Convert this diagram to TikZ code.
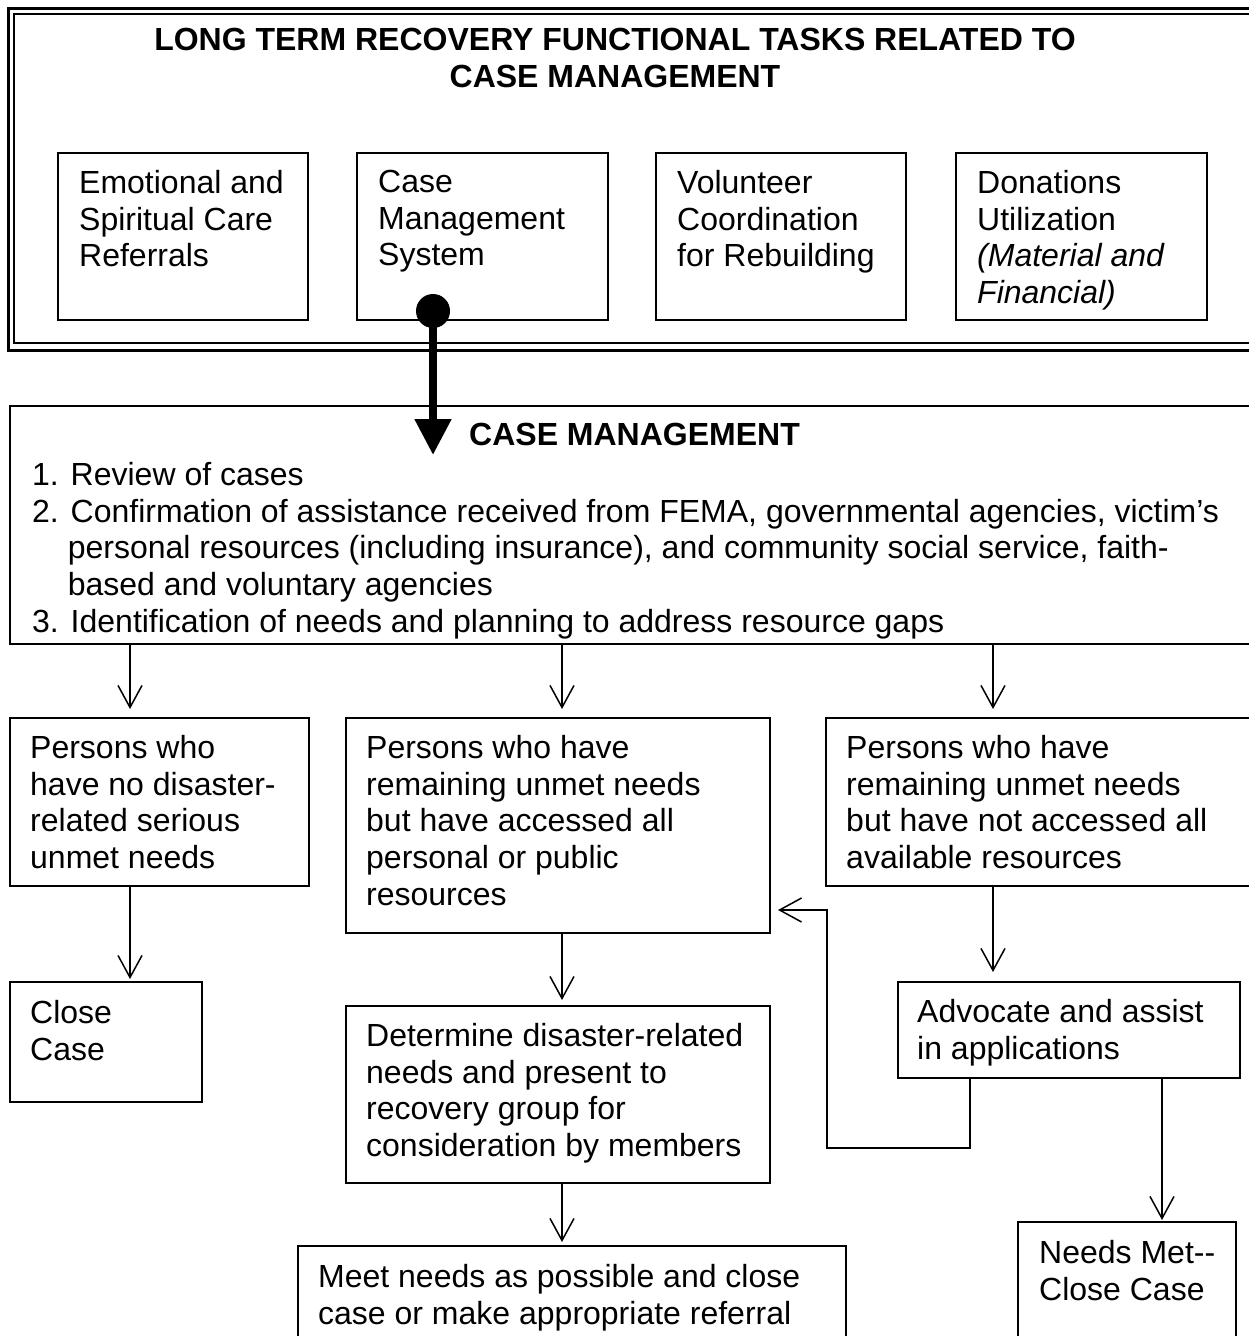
\documentclass[tikz,border=0pt]{standalone}
\usepackage{fontspec}
\setmainfont{Liberation Sans}
\usetikzlibrary{arrows.meta}

\begin{document}
\begin{tikzpicture}[x=1pt, y=-1pt, font=\fontsize{32}{36.7}\selectfont, box/.style={draw, line width=2pt, inner sep=0}, txt/.style={anchor=north west, inner sep=0, align=left}, n/.style={-{Straight Barb[length=22pt, width=24pt]}, line width=1.5pt}, fat/.style={-{Triangle[length=36pt, width=35pt]}, line width=8pt}, dot/.style={circle, fill, minimum size=34pt, inner sep=0}]
            \clip (0,0) rectangle (1249,1336);
            % frame
            \draw[line width=3pt] (8,8) rectangle (1270,350);
            \draw[line width=2pt] (14,14) rectangle (1264,343);
            \node[anchor=north, align=center, inner sep=0, font=\fontsize{32}{36.7}\selectfont\bfseries] (ttl) at (615,28) {LONG TERM RECOVERY FUNCTIONAL TASKS RELATED TO\\CASE MANAGEMENT};

            % nodes
            \node[box, minimum width=250pt, minimum height=167pt] (emo) at (183,236.5) {};
            \node[txt] (emot) at ([xshift=22pt, yshift=-18pt]emo.north west) {Emotional and\\Spiritual Care\\Referrals};
            \node[box, minimum width=251pt, minimum height=167pt] (cms) at (482.5,236.5) {};
            \node[txt] (cmst) at ([xshift=22pt, yshift=-18pt]cms.north west) {Case\\Management\\System};
            \node[box, minimum width=250pt, minimum height=167pt] (vol) at (781,236.5) {};
            \node[txt] (volt) at ([xshift=22pt, yshift=-18pt]vol.north west) {Volunteer\\Coordination\\for Rebuilding};
            \node[box, minimum width=251pt, minimum height=167pt] (don) at (1081.5,236.5) {};
            \node[txt] (dont) at ([xshift=22pt, yshift=-18pt]don.north west) {Donations\\Utilization\\\textit{(Material and}\\\textit{Financial)}};

            \node[box, minimum width=1252pt, minimum height=238pt] (cm) at (636,525) {};
            \node[txt, font=\fontsize{32}{36.7}\selectfont\bfseries] (cmt) at (469,423) {CASE MANAGEMENT};
            \node[txt] (cml) at (32,462) {1. Review of cases\\2. Confirmation of assistance received from FEMA, governmental agencies, victim’s\\\hphantom{2.\ }personal resources (including insurance), and community social service, faith-\\\hphantom{2.\ }based and voluntary agencies\\3. Identification of needs and planning to address resource gaps};

            \node[box, minimum width=299pt, minimum height=168pt] (noneed) at (159.5,802) {};
            \node[txt] (noneedt) at ([xshift=21pt, yshift=-18pt]noneed.north west) {Persons who\\have no disaster-\\related serious\\unmet needs};
            \node[box, minimum width=424pt, minimum height=215pt] (accessed) at (558,825.5) {};
            \node[txt] (accessedt) at ([xshift=21pt, yshift=-18pt]accessed.north west) {Persons who have\\remaining unmet needs\\but have accessed all\\personal or public\\resources};
            \node[box, minimum width=436pt, minimum height=168pt] (notacc) at (1044,802) {};
            \node[txt] (notacct) at ([xshift=21pt, yshift=-18pt]notacc.north west) {Persons who have\\remaining unmet needs\\but have not accessed all\\available resources};

            \node[box, minimum width=192pt, minimum height=120pt] (close) at (106,1042) {};
            \node[txt] (closet) at ([xshift=21pt, yshift=-19pt]close.north west) {Close\\Case};
            \node[box, minimum width=424pt, minimum height=177pt] (determine) at (558,1094.5) {};
            \node[txt] (determinet) at ([xshift=21pt, yshift=-18pt]determine.north west) {Determine disaster-related\\needs and present to\\recovery group for\\consideration by members};
            \node[box, minimum width=342pt, minimum height=96pt] (advocate) at (1069,1030) {};
            \node[txt] (advocatet) at ([xshift=20pt, yshift=-18pt]advocate.north west) {Advocate and assist\\in applications};

            \node[box, minimum width=548pt, minimum height=104pt] (meet) at (572,1298) {};
            \node[txt] (meett) at ([xshift=21pt, yshift=-19pt]meet.north west) {Meet needs as possible and close\\case or make appropriate referral};
            \node[box, minimum width=218pt, minimum height=128pt] (needsmet) at (1127,1286) {};
            \node[txt] (needsmett) at ([xshift=22pt, yshift=-19pt]needsmet.north west) {Needs Met-{}-\\Close Case};

            % edges
            \draw[n, shorten >=8pt] ([xshift=-29.5pt]noneed.north |- cm.south) -- ([xshift=-29.5pt]noneed.north);
            \draw[n, shorten >=8pt] ([xshift=4pt]accessed.north |- cm.south) -- ([xshift=4pt]accessed.north);
            \draw[n, shorten >=8pt] ([xshift=-51pt]notacc.north |- cm.south) -- ([xshift=-51pt]notacc.north);
            \draw[n, shorten >=2pt] ([xshift=-29.5pt]noneed.south) -- ([xshift=24pt]close.north);
            \draw[n, shorten >=5pt] ([xshift=4pt]accessed.south) -- ([xshift=4pt]determine.north);
            \draw[n, shorten >=3pt] ([xshift=4pt]determine.south) -- ([xshift=-10pt]meet.north);
            \draw[n, shorten >=9pt] ([xshift=-51pt]notacc.south) -- ([xshift=-76pt]advocate.north);
            \draw[n, shorten >=1pt] ([xshift=93pt]advocate.south) -- ([xshift=35pt]needsmet.north);
            \draw[n, shorten >=7pt] ([xshift=-99pt]advocate.south) -- ++(0,69) -| ([xshift=56pt, yshift=-84.5pt]accessed.east) -- ([yshift=-84.5pt]accessed.east);

            % thick arrow
            \node[dot] (dot) at (433,311) {};
            \coordinate (tip) at (433,455);
            \draw[fat] (dot.center) -- (tip);
        \end{tikzpicture}
\end{document}
